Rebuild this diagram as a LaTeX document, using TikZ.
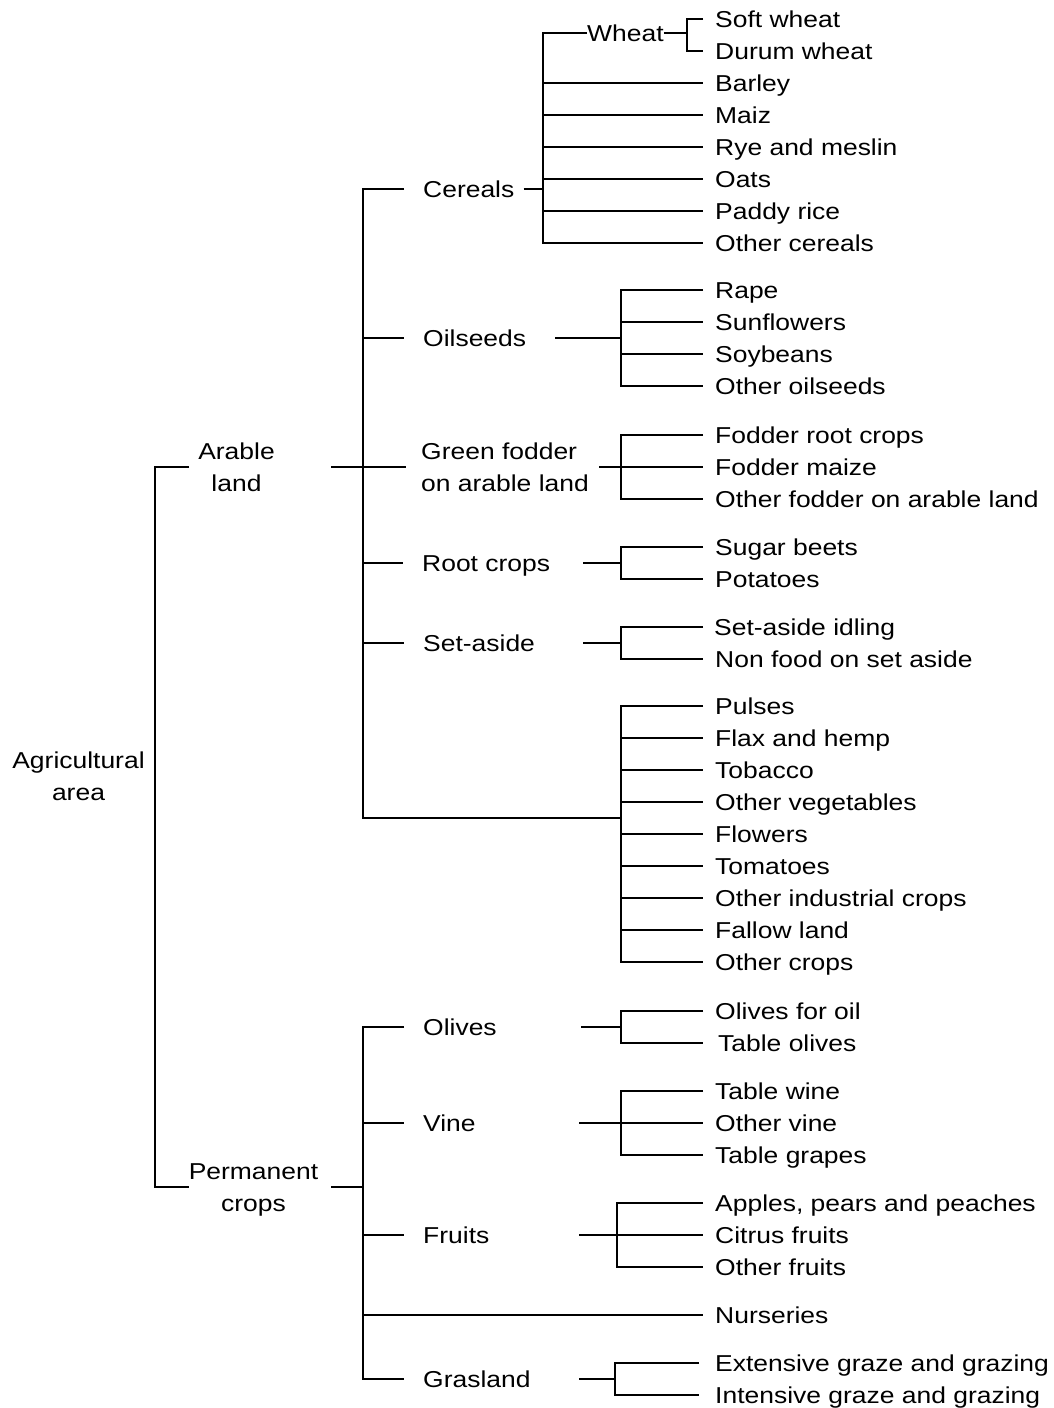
\documentclass[tikz,border=0pt]{standalone}
\usepackage{fontspec}
\setmainfont{Liberation Sans}[FakeStretch=1.15]
% one line of a multi-line label, with fixed cap-height box
\newcommand\labline[1]{\smash{#1}\rule{0pt}{16.5pt}}
\begin{document}
\begin{tikzpicture}[x=1pt,y=-1pt,
  wire/.style={line width=2pt},
  txt/.style={inner sep=0pt, font=\fontsize{23}{32}\selectfont, text height=16.5pt, text depth=0pt, anchor=west},
  two/.style={inner sep=0pt, font=\fontsize{23}{32}\selectfont},
]
\useasboundingbox[fill=white] (0,0) rectangle (1054,1408);

% ---------- labels: upper levels ----------
\node[two, align=center] (agri) at (78.5,776) {\labline{Agricultural}\\\labline{area}};
\node[two, align=center] (arable) at (236.5,467) {\labline{Arable}\\\labline{land}};
\node[two, align=center] (perm) at (253.5,1187) {\labline{Permanent}\\\labline{crops}};

\node[txt] (cereals)  at (423,189)  {Cereals};
\node[txt] (oilseeds) at (423,338)  {Oilseeds};
\node[two, align=left, anchor=west] (fodder) at (421,467) {\labline{Green fodder}\\\labline{on arable land}};
\node[txt] (rootc)    at (422,563)  {Root crops};
\node[txt] (setaside) at (423,643)  {Set-aside};
\node[txt] (olives)   at (423,1027) {Olives};
\node[txt] (vine)     at (423,1123) {Vine};
\node[txt] (fruits)   at (423,1235) {Fruits};
\node[txt] (gras)     at (423,1379) {Grasland};
\node[txt] (wheat)    at (587,33)   {Wheat};

% ---------- labels: leaves ----------
\node[txt] (soft)   at (715,19)  {Soft wheat};
\node[txt] (durum)  at (715,51)  {Durum wheat};
\node[txt] (barley) at (715,83)  {Barley};
\node[txt] (maiz)   at (715,115) {Maiz};
\node[txt] (rye)    at (715,147) {Rye and meslin};
\node[txt] (oats)   at (715,179) {Oats};
\node[txt] (paddy)  at (715,211) {Paddy rice};
\node[txt] (ocer)   at (715,243) {Other cereals};

\node[txt] (rape)   at (715,290) {Rape};
\node[txt] (sunf)   at (715,322) {Sunflowers};
\node[txt] (soy)    at (715,354) {Soybeans};
\node[txt] (ooil)   at (715,386) {Other oilseeds};

\node[txt] (froot)  at (715,435) {Fodder root crops};
\node[txt] (fmaize) at (715,467) {Fodder maize};
\node[txt] (ofod)   at (715,499) {Other fodder on arable land};

\node[txt] (sugar)  at (715,547) {Sugar beets};
\node[txt] (pota)   at (715,579) {Potatoes};

\node[txt] (sidle)  at (714,627) {Set-aside idling};
\node[txt] (nonfood) at (715,659) {Non food on set aside};

\node[txt] (pulses) at (715,706) {Pulses};
\node[txt] (flax)   at (715,738) {Flax and hemp};
\node[txt] (tob)    at (715,770) {Tobacco};
\node[txt] (oveg)   at (715,802) {Other vegetables};
\node[txt] (flow)   at (715,834) {Flowers};
\node[txt] (tom)    at (715,866) {Tomatoes};
\node[txt] (oind)   at (715,898) {Other industrial crops};
\node[txt] (fallow) at (715,930) {Fallow land};
\node[txt] (ocrop)  at (715,962) {Other crops};

\node[txt] (ooil2)  at (715,1011) {Olives for oil};
\node[txt] (tolive) at (718,1043) {Table olives};

\node[txt] (twine)  at (715,1091) {Table wine};
\node[txt] (ovine)  at (715,1123) {Other vine};
\node[txt] (tgrape) at (715,1155) {Table grapes};

\node[txt] (apples) at (715,1203) {Apples, pears and peaches};
\node[txt] (citrus) at (715,1235) {Citrus fruits};
\node[txt] (ofruit) at (715,1267) {Other fruits};

\node[txt] (nurs)   at (715,1315) {Nurseries};

\node[txt] (ext)    at (715,1363) {Extensive graze and grazing};
\node[txt] (int)    at (715,1395) {Intensive graze and grazing};

% ---------- junction columns and stub starts ----------
\coordinate (rootJ) at (155,0);
\coordinate (arJ)   at (363,0);
\coordinate (cerJ)  at (543,0);
\coordinate (whJ)   at (687,0);
\coordinate (jA)    at (621,0);
\coordinate (jF)    at (617,0);
\coordinate (jG)    at (615,0);

\coordinate (arR)  at (331,467);
\coordinate (pmR)  at (331,1187);
\coordinate (oilR) at (555,338);
\coordinate (fodR) at (599,467);
\coordinate (rooR) at (583,563);
\coordinate (setR) at (583,643);
\coordinate (othJ) at (621,818);
\coordinate (oliR) at (581,1027);
\coordinate (vinR) at (579,1123);
\coordinate (fruR) at (579,1235);
\coordinate (graR) at (579,1379);

% ---------- top bracket ----------
\draw[wire] ([xshift=-9pt]arable.west) -- (rootJ |- arable.west) -- (rootJ |- perm.west) -- (perm.west);

% ---------- arable land ----------
\draw[wire] (arR) -- ([xshift=-15pt]fodder.west);
\draw[wire] ([xshift=-19pt]cereals.west) -- (arJ |- cereals.west) -- (arJ |- othJ) -- (othJ);
\foreach \n in {oilseeds,rootc,setaside}
  \draw[wire] (arJ |- \n.west) -- ([xshift=-19pt]\n.west);

% cereals
\draw[wire] ([xshift=9pt]cereals.east) -- (cerJ |- cereals.east);
\draw[wire] (wheat.west) -- (cerJ |- wheat.west) -- (cerJ |- ocer.west) -- ([xshift=-12pt]ocer.west);
\foreach \n in {barley,maiz,rye,oats,paddy}
  \draw[wire] (cerJ |- \n.west) -- ([xshift=-12pt]\n.west);
\draw[wire] (wheat.east) -- (whJ |- wheat.east);
\draw[wire] ([xshift=-12pt]soft.west) -- (whJ |- soft.west) -- (whJ |- durum.west) -- ([xshift=-12pt]durum.west);

% oilseeds
\draw[wire] (oilR) -- (jA |- oilR);
\draw[wire] ([xshift=-12pt]rape.west) -- (jA |- rape.west) -- (jA |- ooil.west) -- ([xshift=-12pt]ooil.west);
\foreach \n in {sunf,soy}
  \draw[wire] (jA |- \n.west) -- ([xshift=-12pt]\n.west);

% green fodder
\draw[wire] (fodR) -- (jA |- fodR);
\draw[wire] ([xshift=-12pt]froot.west) -- (jA |- froot.west) -- (jA |- ofod.west) -- ([xshift=-12pt]ofod.west);
\draw[wire] (jA |- fmaize.west) -- ([xshift=-12pt]fmaize.west);

% root crops
\draw[wire] (rooR) -- (jA |- rooR);
\draw[wire] ([xshift=-12pt]sugar.west) -- (jA |- sugar.west) -- (jA |- pota.west) -- ([xshift=-12pt]pota.west);

% set-aside
\draw[wire] (setR) -- (jA |- setR);
\draw[wire] ([xshift=-11pt]sidle.west) -- (jA |- sidle.west) -- (jA |- nonfood.west) -- ([xshift=-12pt]nonfood.west);

% other arable crops
\draw[wire] ([xshift=-12pt]pulses.west) -- (jA |- pulses.west) -- (jA |- ocrop.west) -- ([xshift=-12pt]ocrop.west);
\foreach \n in {flax,tob,oveg,flow,tom,oind,fallow}
  \draw[wire] (jA |- \n.west) -- ([xshift=-12pt]\n.west);

% ---------- permanent crops ----------
\draw[wire] (pmR) -- (arJ |- pmR);
\draw[wire] ([xshift=-19pt]olives.west) -- (arJ |- olives.west) -- (arJ |- gras.west) -- ([xshift=-19pt]gras.west);
\foreach \n in {vine,fruits}
  \draw[wire] (arJ |- \n.west) -- ([xshift=-19pt]\n.west);
\draw[wire] (arJ |- nurs.west) -- ([xshift=-12pt]nurs.west);

% olives
\draw[wire] (oliR) -- (jA |- oliR);
\draw[wire] ([xshift=-12pt]ooil2.west) -- (jA |- ooil2.west) -- (jA |- tolive.west) -- ([xshift=-15pt]tolive.west);

% vine
\draw[wire] (vinR) -- (jA |- vinR);
\draw[wire] ([xshift=-12pt]twine.west) -- (jA |- twine.west) -- (jA |- tgrape.west) -- ([xshift=-12pt]tgrape.west);
\draw[wire] (jA |- ovine.west) -- ([xshift=-12pt]ovine.west);

% fruits
\draw[wire] (fruR) -- (jF |- fruR);
\draw[wire] ([xshift=-12pt]apples.west) -- (jF |- apples.west) -- (jF |- ofruit.west) -- ([xshift=-12pt]ofruit.west);
\draw[wire] (jF |- citrus.west) -- ([xshift=-12pt]citrus.west);

% grasland
\draw[wire] (graR) -- (jG |- graR);
\draw[wire] ([xshift=-16pt]ext.west) -- (jG |- ext.west) -- (jG |- int.west) -- ([xshift=-16pt]int.west);
\end{tikzpicture}
\end{document}
